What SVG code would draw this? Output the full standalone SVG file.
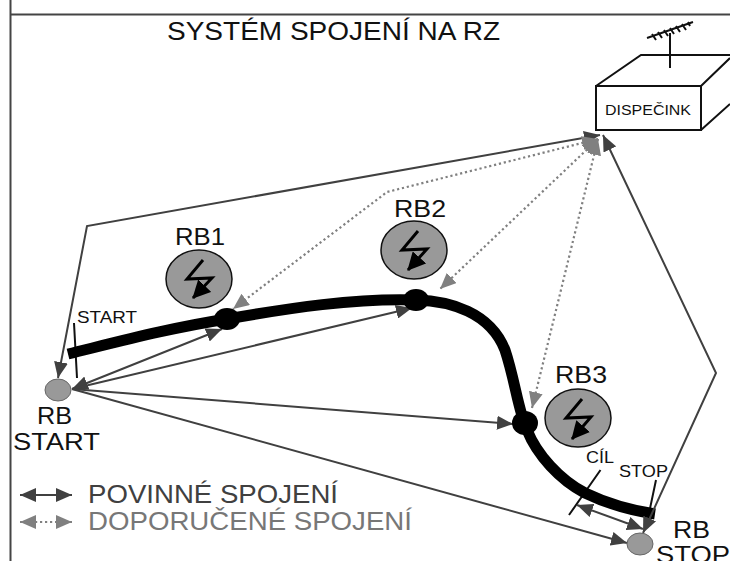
<svg xmlns="http://www.w3.org/2000/svg" width="730" height="561" viewBox="0 0 730 561">
<style>
text{font-family:"Liberation Sans",Arial,sans-serif;fill:#111}
.t{font-size:23px}.s{font-size:17px}.h{font-size:25px}
.c{fill:none;stroke:#404040;stroke-width:2}
.d{fill:none;stroke:#808080;stroke-width:2.2;stroke-dasharray:2.2 2.8}
.b{fill:#999;stroke:#111;stroke-width:1.5}
.k{fill:none;stroke:#111;stroke-width:2}
.l{fill:none;stroke:#000;stroke-width:3}
</style>
<defs>
<marker id="a" markerUnits="userSpaceOnUse" markerWidth="18" markerHeight="14" refX="16" refY="7" orient="auto-start-reverse"><path d="M0 0L16 7L0 14Z" fill="#404040"/></marker>
<marker id="g" markerUnits="userSpaceOnUse" markerWidth="18" markerHeight="14" refX="16" refY="7" orient="auto-start-reverse"><path d="M0 0L16 7L0 14Z" fill="#808080"/></marker>
<marker id="v" markerUnits="userSpaceOnUse" markerWidth="20" markerHeight="18" refX="17" refY="9" orient="auto"><path d="M0 0L18 9L0 18Z" fill="#000"/></marker>
</defs>
<rect width="730" height="561" fill="#fff"/>
<path d="M10.500 0V561M10 14.500H730" fill="none" stroke="#444" stroke-width="2"/>
<text class="h" x="167" y="40" textLength="333" lengthAdjust="spacingAndGlyphs">SYSTÉM SPOJENÍ NA RZ</text>
<g id="connectors">
<path class="k" d="M74 323L77 378M600.500 470L569 515M656 480L648 518"/>
<path d="M68 354C125 340 170 328 227 319C290 308 355 298 416 300C450 301 490 312 505 350C515 380 518 410 527 430C537 455 560 480 585 493C610 505 635 511 655 514" fill="none" stroke="#000" stroke-width="11"/>
<path class="c" d="M600 135L87 226L58 378" marker-end="url(#a)" marker-start="url(#a)"/>
<path class="c" d="M603 135L716 373L643 533" marker-start="url(#a)" marker-end="url(#a)"/>
<path class="c" d="M72 389L222 329" marker-start="url(#a)" marker-end="url(#a)"/>
<path class="c" d="M72 389L412 308" marker-end="url(#a)"/>
<path class="c" d="M72 389L513 424" marker-end="url(#a)"/>
<path class="c" d="M72 389L627 543" marker-end="url(#a)"/>
<path class="c" d="M577 505L643 529" marker-start="url(#a)" marker-end="url(#a)"/>
<path class="d" d="M598 139L387 192L233 309" marker-start="url(#g)" marker-end="url(#g)"/>
<path class="d" d="M598 139L440 289" marker-start="url(#g)" marker-end="url(#g)"/>
<path class="d" d="M598 139L532 408" marker-start="url(#g)" marker-end="url(#g)"/>
</g>
<g id="junctions" fill="#000">
<ellipse cx="227" cy="319" rx="13" ry="11"/>
<ellipse cx="416" cy="300" rx="13" ry="11"/>
<ellipse cx="525" cy="423" rx="13" ry="12"/>
</g>
<g id="dispecink">
<path class="k" d="M596 86H701V130H596ZM596 86L641 55H730M701 86L730 58M701 130L730 104M670 68V33M647 38L693 22M652 34L656 40M658 32L662 38M664 30L668 36M670 28L674 34M676 26L680 32M682 24L686 30M688 22L690 26"/>
<text x="605" y="115" font-size="14" textLength="86" lengthAdjust="spacingAndGlyphs">DISPEČINK</text>
</g>
<g id="rb1">
<ellipse class="b" cx="199" cy="279" rx="33" ry="29"/>
<path class="l" d="M203 260L187 279L212 278L193 298" marker-end="url(#v)"/>
<text class="t" x="175" y="245" textLength="50" lengthAdjust="spacingAndGlyphs">RB1</text>
</g>
<g id="rb2">
<ellipse class="b" cx="414" cy="250" rx="33" ry="29"/>
<path class="l" d="M418 231L402 250L427 249L408 270" marker-end="url(#v)"/>
<text class="t" x="394" y="217" textLength="52" lengthAdjust="spacingAndGlyphs">RB2</text>
</g>
<g id="rb3">
<ellipse class="b" cx="578" cy="418" rx="33" ry="29"/>
<path class="l" d="M582 399L566 418L591 417L572 439" marker-end="url(#v)"/>
<text class="t" x="555" y="383" textLength="52" lengthAdjust="spacingAndGlyphs">RB3</text>
</g>
<g id="rb-start">
<ellipse cx="58" cy="390" rx="13" ry="11" fill="#999" stroke="#666"/>
<text class="t" x="37" y="424" textLength="35" lengthAdjust="spacingAndGlyphs">RB</text>
<text class="t" x="13" y="450" textLength="87" lengthAdjust="spacingAndGlyphs">START</text>
</g>
<g id="rb-stop">
<ellipse cx="640" cy="544" rx="13" ry="11" fill="#999" stroke="#666"/>
<text class="t" x="673" y="538" textLength="37" lengthAdjust="spacingAndGlyphs">RB</text>
<text class="t" x="656" y="563" textLength="74" lengthAdjust="spacingAndGlyphs">STOP</text>
</g>
<text class="s" x="77" y="323" textLength="60" lengthAdjust="spacingAndGlyphs">START</text>
<text class="s" x="586" y="463" textLength="28" lengthAdjust="spacingAndGlyphs">CÍL</text>
<text class="s" x="619" y="477" textLength="49" lengthAdjust="spacingAndGlyphs">STOP</text>
<g id="legend">
<path class="c" d="M20 495H72" marker-start="url(#a)" marker-end="url(#a)"/>
<path class="d" d="M20 522H72" marker-start="url(#g)" marker-end="url(#g)"/>
<text class="h" x="88" y="503" style="fill:#404040" textLength="250" lengthAdjust="spacingAndGlyphs">POVINNÉ SPOJENÍ</text>
<text class="h" x="88" y="530" style="fill:#777" textLength="324" lengthAdjust="spacingAndGlyphs">DOPORUČENÉ SPOJENÍ</text>
</g>
</svg>
